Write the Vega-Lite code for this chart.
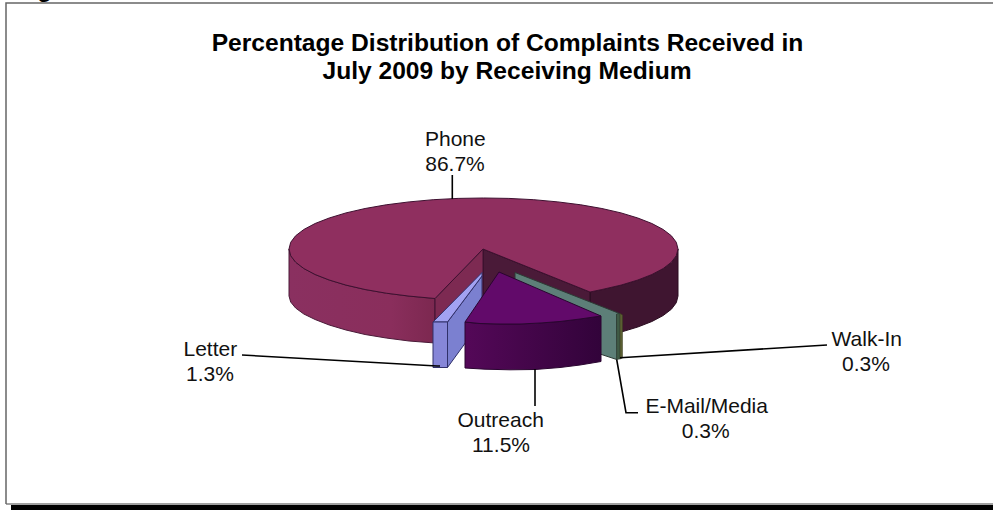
{
"$schema":"https://vega.github.io/schema/vega-lite/v6.json",
"width":993,"height":510,"padding":0,"autosize":{"type":"none"},
"background":"white",
"view":{"stroke":null},
"config":{"text":{"font":"Liberation Sans"}},
"datasets":{
"outline":[
{"part":"phoneRightWall","x":590,"y":292},{"part":"phoneRightWall","x":601.9,"y":289.5},{"part":"phoneRightWall","x":621,"y":285.1},{"part":"phoneRightWall","x":637.8,"y":280},{"part":"phoneRightWall","x":651.9,"y":274.5},{"part":"phoneRightWall","x":663.2,"y":268.5},{"part":"phoneRightWall","x":671.4,"y":262.2},{"part":"phoneRightWall","x":676.3,"y":255.7},{"part":"phoneRightWall","x":678,"y":249},{"part":"phoneRightWall","x":678,"y":296},{"part":"phoneRightWall","x":676.3,"y":302.7},{"part":"phoneRightWall","x":671.4,"y":309.2},{"part":"phoneRightWall","x":663.2,"y":315.5},{"part":"phoneRightWall","x":651.9,"y":321.5},{"part":"phoneRightWall","x":637.8,"y":327},{"part":"phoneRightWall","x":621,"y":332.1},{"part":"phoneRightWall","x":601.9,"y":336.5},{"part":"phoneRightWall","x":590,"y":339},{"part":"phoneRightWall","x":590,"y":292},
{"part":"phoneLeftWall","x":289,"y":249},{"part":"phoneLeftWall","x":290.7,"y":255.7},{"part":"phoneLeftWall","x":295.6,"y":262.2},{"part":"phoneLeftWall","x":303.8,"y":268.5},{"part":"phoneLeftWall","x":315.1,"y":274.5},{"part":"phoneLeftWall","x":329.2,"y":280},{"part":"phoneLeftWall","x":346,"y":285.1},{"part":"phoneLeftWall","x":365.1,"y":289.5},{"part":"phoneLeftWall","x":386.2,"y":293.2},{"part":"phoneLeftWall","x":409.1,"y":296.1},{"part":"phoneLeftWall","x":435,"y":298.5},{"part":"phoneLeftWall","x":435,"y":343},{"part":"phoneLeftWall","x":409.1,"y":341},{"part":"phoneLeftWall","x":386.2,"y":338},{"part":"phoneLeftWall","x":365.1,"y":334.5},{"part":"phoneLeftWall","x":346,"y":330},{"part":"phoneLeftWall","x":329.2,"y":325},{"part":"phoneLeftWall","x":315.1,"y":319.5},{"part":"phoneLeftWall","x":303.8,"y":314},{"part":"phoneLeftWall","x":295.6,"y":308},{"part":"phoneLeftWall","x":290.7,"y":302},{"part":"phoneLeftWall","x":289,"y":296},{"part":"phoneLeftWall","x":289,"y":249},
{"part":"phoneInnerRight","x":483,"y":249},{"part":"phoneInnerRight","x":590,"y":292},{"part":"phoneInnerRight","x":590,"y":339},{"part":"phoneInnerRight","x":483,"y":296},{"part":"phoneInnerRight","x":483,"y":249},
{"part":"phoneInnerLeft","x":483,"y":249},{"part":"phoneInnerLeft","x":435,"y":298.5},{"part":"phoneInnerLeft","x":435,"y":343},{"part":"phoneInnerLeft","x":483,"y":296},{"part":"phoneInnerLeft","x":483,"y":249},
{"part":"phoneTop","x":483,"y":249},{"part":"phoneTop","x":590,"y":292},{"part":"phoneTop","x":601.9,"y":289.5},{"part":"phoneTop","x":621,"y":285.1},{"part":"phoneTop","x":637.8,"y":280},{"part":"phoneTop","x":651.9,"y":274.5},{"part":"phoneTop","x":663.2,"y":268.5},{"part":"phoneTop","x":671.4,"y":262.2},{"part":"phoneTop","x":676.3,"y":255.7},{"part":"phoneTop","x":678,"y":249},{"part":"phoneTop","x":676.3,"y":242.3},{"part":"phoneTop","x":671.4,"y":235.8},{"part":"phoneTop","x":663.2,"y":229.5},{"part":"phoneTop","x":651.9,"y":223.5},{"part":"phoneTop","x":637.8,"y":218},{"part":"phoneTop","x":621,"y":212.9},{"part":"phoneTop","x":601.9,"y":208.5},{"part":"phoneTop","x":580.8,"y":204.8},{"part":"phoneTop","x":557.9,"y":201.9},{"part":"phoneTop","x":533.8,"y":199.7},{"part":"phoneTop","x":508.9,"y":198.4},{"part":"phoneTop","x":483.5,"y":198},{"part":"phoneTop","x":458.1,"y":198.4},{"part":"phoneTop","x":433.2,"y":199.7},{"part":"phoneTop","x":409.1,"y":201.9},{"part":"phoneTop","x":386.2,"y":204.8},{"part":"phoneTop","x":365.1,"y":208.5},{"part":"phoneTop","x":346,"y":212.9},{"part":"phoneTop","x":329.2,"y":218},{"part":"phoneTop","x":315.1,"y":223.5},{"part":"phoneTop","x":303.8,"y":229.5},{"part":"phoneTop","x":295.6,"y":235.8},{"part":"phoneTop","x":290.7,"y":242.3},{"part":"phoneTop","x":289,"y":249},{"part":"phoneTop","x":290.7,"y":255.7},{"part":"phoneTop","x":295.6,"y":262.2},{"part":"phoneTop","x":303.8,"y":268.5},{"part":"phoneTop","x":315.1,"y":274.5},{"part":"phoneTop","x":329.2,"y":280},{"part":"phoneTop","x":346,"y":285.1},{"part":"phoneTop","x":365.1,"y":289.5},{"part":"phoneTop","x":386.2,"y":293.2},{"part":"phoneTop","x":409.1,"y":296.1},{"part":"phoneTop","x":435,"y":298.5},{"part":"phoneTop","x":483,"y":249},
{"part":"letterTop","x":433,"y":322},{"part":"letterTop","x":482,"y":272.5},{"part":"letterTop","x":482,"y":276},{"part":"letterTop","x":447.5,"y":322},{"part":"letterTop","x":433,"y":322},
{"part":"letterSide","x":447.5,"y":322},{"part":"letterSide","x":482,"y":276},{"part":"letterSide","x":482,"y":320},{"part":"letterSide","x":447.5,"y":367.5},{"part":"letterSide","x":447.5,"y":322},
{"part":"letterFront","x":433,"y":322},{"part":"letterFront","x":447.5,"y":322},{"part":"letterFront","x":447.5,"y":367.5},{"part":"letterFront","x":433,"y":367.5},{"part":"letterFront","x":433,"y":322},
{"part":"emailSide","x":515,"y":272.5},{"part":"emailSide","x":515,"y":290},{"part":"emailSide","x":600,"y":354},{"part":"emailSide","x":616.7,"y":359.5},{"part":"emailSide","x":616.5,"y":314.5},{"part":"emailSide","x":619.5,"y":313.5},{"part":"emailSide","x":515,"y":272.5},
{"part":"emailFront","x":616.5,"y":314},{"part":"emailFront","x":620,"y":313.5},{"part":"emailFront","x":620,"y":359},{"part":"emailFront","x":616.7,"y":359.5},{"part":"emailFront","x":616.5,"y":314},
{"part":"walkInFront","x":620,"y":313.5},{"part":"walkInFront","x":622.5,"y":315},{"part":"walkInFront","x":622.5,"y":358},{"part":"walkInFront","x":620,"y":359},{"part":"walkInFront","x":620,"y":313.5},
{"part":"outreachFront","x":465,"y":322},{"part":"outreachFront","x":480,"y":323.5},{"part":"outreachFront","x":500,"y":324},{"part":"outreachFront","x":520,"y":324},{"part":"outreachFront","x":540,"y":323},{"part":"outreachFront","x":560,"y":321.5},{"part":"outreachFront","x":580,"y":319},{"part":"outreachFront","x":601,"y":316},{"part":"outreachFront","x":601,"y":361.5},{"part":"outreachFront","x":580,"y":365},{"part":"outreachFront","x":560,"y":367.5},{"part":"outreachFront","x":535,"y":369.5},{"part":"outreachFront","x":510,"y":369.8},{"part":"outreachFront","x":485,"y":369.2},{"part":"outreachFront","x":465,"y":368},{"part":"outreachFront","x":465,"y":322},
{"part":"outreachTop","x":499,"y":272},{"part":"outreachTop","x":601,"y":316},{"part":"outreachTop","x":580,"y":319},{"part":"outreachTop","x":560,"y":321.5},{"part":"outreachTop","x":540,"y":323},{"part":"outreachTop","x":520,"y":324},{"part":"outreachTop","x":500,"y":324},{"part":"outreachTop","x":480,"y":323.5},{"part":"outreachTop","x":465,"y":322},{"part":"outreachTop","x":499,"y":272}
],
"leaders":[
{"medium":"Phone","x":452.3,"y":175},{"medium":"Phone","x":452.3,"y":199},
{"medium":"Letter","x":242,"y":355},{"medium":"Letter","x":437,"y":366},{"medium":"Letter","x":440,"y":366},
{"medium":"Outreach","x":535,"y":369},{"medium":"Outreach","x":535,"y":406},
{"medium":"E-Mail/Media","x":616.7,"y":359.5},{"medium":"E-Mail/Media","x":626,"y":412.7},{"medium":"E-Mail/Media","x":638,"y":412.7},
{"medium":"Walk-In","x":620,"y":357.7},{"medium":"Walk-In","x":827,"y":345}
],
"labels":[
{"text":"Phone","x":455.3,"y":146},{"text":"86.7%","x":455,"y":171},
{"text":"Letter","x":210.3,"y":355.7},{"text":"1.3%","x":210,"y":380.5},
{"text":"Outreach","x":500.7,"y":426.7},{"text":"11.5%","x":501,"y":452.3},
{"text":"E-Mail/Media","x":706.7,"y":412.7},{"text":"0.3%","x":705.7,"y":438.3},
{"text":"Walk-In","x":866.7,"y":346},{"text":"0.3%","x":866,"y":370.5}
],
"titleLines":[
{"text":"Percentage Distribution of Complaints Received in","x":507.5,"y":51},
{"text":"July 2009 by Receiving Medium","x":507,"y":79.3}
],
"frame":[{"x":6,"y":504},{"x":6,"y":3},{"x":993,"y":3}],
"frameBase":[{"x":6,"y":504},{"x":993,"y":504}],
"shadow":[{"x":11,"x2":993,"y":505,"y2":510}],
"heading":[{"text":"g","x":44.5,"y":-3}]
},
"encoding":{
"x":{"field":"x","type":"quantitative","scale":{"domain":[0,993]},"axis":null},
"y":{"field":"y","type":"quantitative","scale":{"domain":[510,0]},"axis":null}
},
"layer":[
{"data":{"name":"shadow"},"mark":{"type":"rect","fill":"#000000"},"encoding":{"x2":{"field":"x2"},"y2":{"field":"y2"}}},
{"data":{"name":"frameBase"},"mark":{"type":"line","stroke":"#808080","strokeWidth":1.5},"encoding":{"order":{"value":null}}},
{"data":{"name":"frame"},"mark":{"type":"line","stroke":"#666666","strokeWidth":1.5},"encoding":{"order":{"value":null}}},
{"data":{"name":"heading"},"mark":{"type":"text","fontWeight":"bold","fontSize":24,"align":"center","baseline":"alphabetic","color":"#000000"},"encoding":{"text":{"field":"text"}}},
{"data":{"name":"outline"},"transform":[{"filter":"datum.part==='phoneRightWall'"}],"mark":{"type":"line","fill":"#3f1530","stroke":"#2a0d20","strokeWidth":1},"encoding":{"order":{"value":null}}},
{"data":{"name":"outline"},"transform":[{"filter":"datum.part==='phoneLeftWall'"}],"mark":{"type":"line","fill":{"x1":0,"x2":1,"y1":0,"y2":0,"gradient":"linear","stops":[{"offset":0,"color":"#8a3060"},{"offset":0.7,"color":"#8a2e5c"},{"offset":1,"color":"#7c2850"}]},"stroke":"#4a1a38","strokeWidth":1},"encoding":{"order":{"value":null}}},
{"data":{"name":"outline"},"transform":[{"filter":"datum.part==='phoneInnerRight'"}],"mark":{"type":"line","fill":"#4a1a38","stroke":"#2a0d20","strokeWidth":1},"encoding":{"order":{"value":null}}},
{"data":{"name":"outline"},"transform":[{"filter":"datum.part==='phoneInnerLeft'"}],"mark":{"type":"line","fill":"#7d2a52","stroke":"#3e1030","strokeWidth":1},"encoding":{"order":{"value":null}}},
{"data":{"name":"outline"},"transform":[{"filter":"datum.part==='phoneTop'"}],"mark":{"type":"line","fill":"#8f2f5f","stroke":"#3e1030","strokeWidth":1},"encoding":{"order":{"value":null}}},
{"data":{"name":"outline"},"transform":[{"filter":"datum.part==='letterSide'"}],"mark":{"type":"line","fill":"#7b80d0","stroke":"#30306a","strokeWidth":1},"encoding":{"order":{"value":null}}},
{"data":{"name":"outline"},"transform":[{"filter":"datum.part==='letterTop'"}],"mark":{"type":"line","fill":"#a2a2f2","stroke":"#30306a","strokeWidth":1},"encoding":{"order":{"value":null}}},
{"data":{"name":"outline"},"transform":[{"filter":"datum.part==='letterFront'"}],"mark":{"type":"line","fill":"#8686d8","stroke":"#30306a","strokeWidth":1},"encoding":{"order":{"value":null}}},
{"data":{"name":"outline"},"transform":[{"filter":"datum.part==='emailSide'"}],"mark":{"type":"line","fill":"#5d7f78","stroke":"#2d3a35","strokeWidth":1},"encoding":{"order":{"value":null}}},
{"data":{"name":"outline"},"transform":[{"filter":"datum.part==='emailFront'"}],"mark":{"type":"line","fill":"#3f5a45","stroke":"#2d3a35","strokeWidth":0.5},"encoding":{"order":{"value":null}}},
{"data":{"name":"outline"},"transform":[{"filter":"datum.part==='walkInFront'"}],"mark":{"type":"line","fill":"#5a5f32","stroke":"#3a3d20","strokeWidth":0.5},"encoding":{"order":{"value":null}}},
{"data":{"name":"outline"},"transform":[{"filter":"datum.part==='outreachFront'"}],"mark":{"type":"line","fill":{"x1":0,"x2":1,"y1":0,"y2":0,"gradient":"linear","stops":[{"offset":0,"color":"#540858"},{"offset":1,"color":"#32033a"}]},"stroke":"#2a0530","strokeWidth":1},"encoding":{"order":{"value":null}}},
{"data":{"name":"outline"},"transform":[{"filter":"datum.part==='outreachTop'"}],"mark":{"type":"line","fill":"#620a6a","stroke":"#2a0530","strokeWidth":1},"encoding":{"order":{"value":null}}},
{"data":{"name":"leaders"},"mark":{"type":"line","stroke":"#000000","strokeWidth":1.6},"encoding":{"detail":{"field":"medium"},"order":{"value":null}}},
{"data":{"name":"labels"},"mark":{"type":"text","fontSize":21,"align":"center","baseline":"alphabetic","color":"#111111"},"encoding":{"text":{"field":"text"}}},
{"data":{"name":"titleLines"},"mark":{"type":"text","fontSize":24.6,"fontWeight":"bold","align":"center","baseline":"alphabetic","color":"#000000"},"encoding":{"text":{"field":"text"}}}
]
}
